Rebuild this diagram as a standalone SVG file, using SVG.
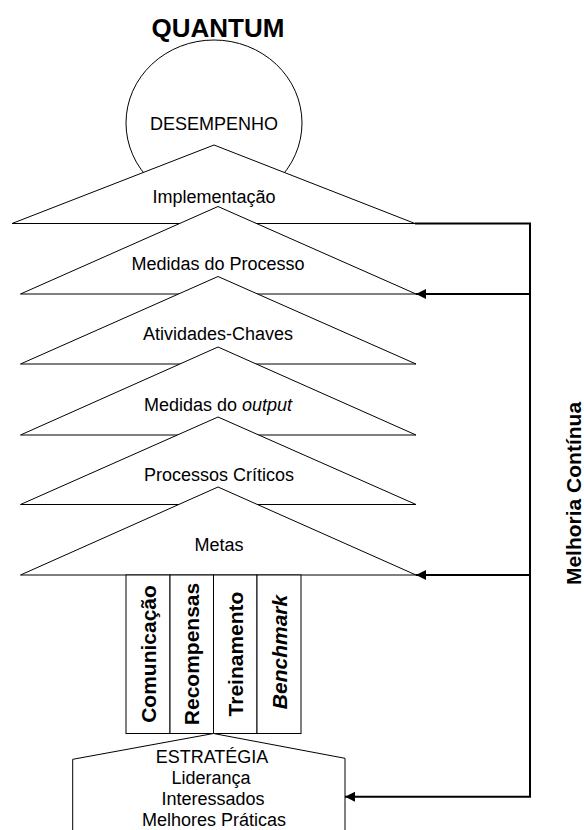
<svg xmlns="http://www.w3.org/2000/svg" width="584" height="830" viewBox="0 0 584 830">
  <style>
    .shape { fill: #ffffff; stroke: #000000; stroke-width: 1; }
    .lbl { font-family: "Liberation Sans", Arial, sans-serif; font-size: 18px; fill: #000000; text-anchor: middle; }
    .vlbl { font-family: "Liberation Sans", Arial, sans-serif; font-size: 21px; font-weight: bold; fill: #000000; text-anchor: middle; }
    .title { font-family: "Liberation Sans", Arial, sans-serif; font-size: 26px; font-weight: bold; fill: #000000; text-anchor: middle; }
    .conn { fill: none; stroke: #000000; stroke-width: 2; }
  </style>
  <defs>
    <marker id="arrow" markerUnits="userSpaceOnUse" markerWidth="11" markerHeight="11" refX="10" refY="5" orient="auto">
      <path d="M0,0 L10,5 L0,10 z" fill="#000000"/>
    </marker>
  </defs>
  <rect width="584" height="830" fill="#ffffff"/>

  <!-- heading -->
  <g id="title">
    <text class="title" x="218" y="36.5">QUANTUM</text>
  </g>

  <!-- performance circle sits behind the first layer -->
  <g id="desempenho">
    <ellipse class="shape" cx="214" cy="123" rx="88" ry="83"/>
    <text class="lbl" x="214" y="130">DESEMPENHO</text>
  </g>

  <!-- stacked layers, each drawn over the previous one -->
  <g id="implementacao">
    <polygon class="shape" points="214,145 415,223.5 12,223.5"/>
    <text class="lbl" x="214" y="202.5">Implementação</text>
  </g>
  <g id="medidas-processo">
    <polygon class="shape" points="218,206.5 416,294 20.5,294"/>
    <text class="lbl" x="218" y="269.5">Medidas do Processo</text>
  </g>
  <g id="atividades-chaves">
    <polygon class="shape" points="218,276.5 416,364 20.5,364"/>
    <text class="lbl" x="218" y="340">Atividades-Chaves</text>
  </g>
  <g id="medidas-output">
    <polygon class="shape" points="218,347 416,435 20.5,435"/>
    <text class="lbl" x="218" y="410.5">Medidas do <tspan font-style="italic">output</tspan></text>
  </g>
  <g id="processos-criticos">
    <polygon class="shape" points="218,417 416,504.5 20.5,504.5"/>
    <text class="lbl" x="219" y="481">Processos Críticos</text>
  </g>
  <g id="metas">
    <polygon class="shape" points="218,487 416,575 20.5,575"/>
    <text class="lbl" x="219" y="551">Metas</text>
  </g>

  <!-- supporting pillars -->
  <g id="comunicacao">
    <rect class="shape" x="126" y="575" width="44" height="158.5"/>
    <text class="vlbl" transform="translate(155.5,654) rotate(-90)">Comunicação</text>
  </g>
  <g id="recompensas">
    <rect class="shape" x="170" y="575" width="43.5" height="158.5"/>
    <text class="vlbl" transform="translate(199.2,654) rotate(-90)">Recompensas</text>
  </g>
  <g id="treinamento">
    <rect class="shape" x="213.5" y="575" width="43.5" height="158.5"/>
    <text class="vlbl" transform="translate(242.8,654) rotate(-90)">Treinamento</text>
  </g>
  <g id="benchmark">
    <rect class="shape" x="257" y="575" width="44" height="158.5"/>
    <text class="vlbl" font-style="italic" transform="translate(286.5,652) rotate(-90)">Benchmark</text>
  </g>

  <!-- foundation -->
  <g id="estrategia">
    <polygon class="shape" points="72.7,845 72.7,759.3 213.5,733.5 345,758.3 345,845"/>
    <text class="lbl" x="212" y="763.3">ESTRATÉGIA</text>
    <text class="lbl" x="211" y="784">Liderança</text>
    <text class="lbl" x="213" y="805">Interessados</text>
    <text class="lbl" x="214" y="826">Melhores Práticas</text>
  </g>

  <!-- feedback loop -->
  <g id="connectors">
    <polyline class="conn" points="415,223.5 530,223.5 530,796.7 345,796.7" marker-end="url(#arrow)"/>
    <line class="conn" x1="530" y1="294" x2="416" y2="294" marker-end="url(#arrow)"/>
    <line class="conn" x1="530" y1="575" x2="416" y2="575" marker-end="url(#arrow)"/>
  </g>

  <g id="melhoria-continua">
    <text class="vlbl" transform="translate(581,493.5) rotate(-90)">Melhoria Contínua</text>
  </g>
</svg>
